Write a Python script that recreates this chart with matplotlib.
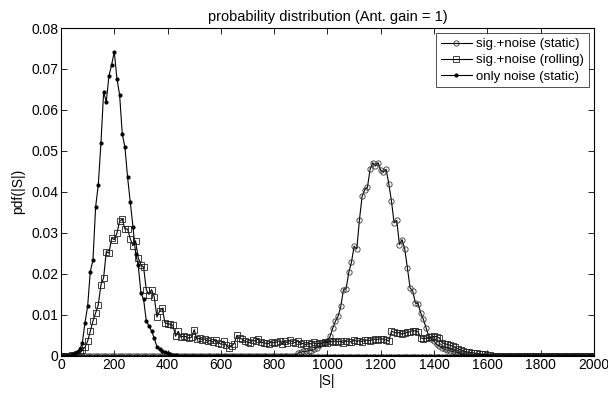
import numpy as np
import matplotlib
matplotlib.use("Agg")
import matplotlib.pyplot as plt
from matplotlib.ticker import FixedLocator

plt.rcParams['font.family'] = ['Liberation Sans', 'DejaVu Sans']

x_vals = list(range(0, 2001, 10))

# only noise (static)
noise_vals = [0.0, 0.0, 0.0, 0.0, 0.0002, 0.0004, 0.0008, 0.0015, 0.003, 0.008,
              0.012, 0.0205, 0.0233, 0.0363, 0.0417, 0.052, 0.0643, 0.062, 0.0683, 0.071,
              0.0742, 0.0676, 0.0637, 0.0541, 0.0509, 0.0435, 0.0376, 0.0315, 0.0249, 0.022,
              0.0153, 0.0137, 0.0085, 0.0072, 0.006, 0.0042, 0.0022, 0.0016, 0.0012, 0.0008,
              0.0005, 0.0003, 0.0002, 0.0001] + [0.0] * 157

# sig.+noise (rolling)
rolling_vals = [0.0, 0.0, 0.0, 0.0, 0.0001, 0.0002, 0.0003, 0.0005, 0.0013, 0.002,
                0.0035, 0.0059, 0.0084, 0.0104, 0.0124, 0.0173, 0.019, 0.0254, 0.025, 0.0287,
                0.0283, 0.0299, 0.0328, 0.0333, 0.0309, 0.0309, 0.0285, 0.0268, 0.028, 0.0238,
                0.0222, 0.0216, 0.0161, 0.0149, 0.0161, 0.0143, 0.0094, 0.0108, 0.0116, 0.008,
                0.0078, 0.0076, 0.0074, 0.0047, 0.0059, 0.0045, 0.0047, 0.0046, 0.0042, 0.0045,
                0.0063, 0.004, 0.0042, 0.0039, 0.004, 0.0035, 0.0037, 0.0033, 0.0038, 0.0031,
                0.0028, 0.0035, 0.0025, 0.0019, 0.0024, 0.0029, 0.0049, 0.0042, 0.004, 0.0035,
                0.0033, 0.0031, 0.0038, 0.0035, 0.0041, 0.0033, 0.0031, 0.003, 0.0029, 0.0034,
                0.0031, 0.0033, 0.0036, 0.0028, 0.0035, 0.0031, 0.0037, 0.0033, 0.0031, 0.0036,
                0.0028, 0.003, 0.0026, 0.003, 0.0028, 0.0032, 0.0027, 0.0031, 0.003, 0.0033,
                0.0031, 0.0035, 0.0033, 0.0036, 0.0033, 0.0035, 0.0031, 0.0036, 0.0034, 0.0033,
                0.0037, 0.0035, 0.0036, 0.0034, 0.0037, 0.0038, 0.0036, 0.0039, 0.004, 0.0039,
                0.0041, 0.004, 0.0038, 0.0035, 0.0059, 0.0057, 0.0055, 0.0056, 0.0052, 0.0055,
                0.0057, 0.0058, 0.0061, 0.006, 0.0058, 0.0043, 0.0041, 0.0042, 0.0044, 0.0045,
                0.0047, 0.0046, 0.0043, 0.0031, 0.0029, 0.0027, 0.0025, 0.0023, 0.002, 0.0016,
                0.0014, 0.0011, 0.0009, 0.0008, 0.0007, 0.0006, 0.0005, 0.0004, 0.0003, 0.0003,
                0.0002, 0.0001] + [0.0] * 39

# sig.+noise (static)
static_vals = [0.0] * 89 + [
    0.0006, 0.0008, 0.001, 0.001, 0.0012, 0.0012, 0.0015, 0.0019, 0.0025, 0.0031,
    0.0033, 0.0035, 0.0047, 0.0067, 0.0084, 0.0096, 0.012, 0.0161, 0.0163, 0.0203,
    0.0228, 0.0267, 0.026, 0.0332, 0.0389, 0.0405, 0.0411, 0.0455, 0.0471, 0.0463,
    0.0471, 0.0452, 0.0449, 0.0455, 0.042, 0.0378, 0.0324, 0.033, 0.0271, 0.0283,
    0.026, 0.0214, 0.0165, 0.0157, 0.0128, 0.0127, 0.0104, 0.0088, 0.0068, 0.0047,
    0.004, 0.0035, 0.0027, 0.0023, 0.0018, 0.0015, 0.0013, 0.0011, 0.001, 0.0008,
    0.0006, 0.0005, 0.0003, 0.0002, 0.0001] + [0.0] * 47

x_ticks = [0, 200, 400, 600, 800, 1000, 1200, 1400, 1600, 1800, 2000]
y_ticks = [0, 0.01, 0.02, 0.03, 0.04, 0.05, 0.06, 0.07, 0.08]
y_tick_labels = ['0', '0.01', '0.02', '0.03', '0.04', '0.05', '0.06', '0.07', '0.08']

fig = plt.figure(figsize=(6.08, 3.94), dpi=100)
ax = fig.add_axes([0.1003, 0.0977, 0.8766, 0.8312])

ax.plot(x_vals, static_vals, color='black', lw=0.8, marker='o', ms=3.8,
        mfc='none', mec='#333333', mew=0.6, label='sig.+noise (static)')
ax.plot(x_vals, rolling_vals, color='black', lw=0.8, marker='s', ms=3.8,
        mfc='none', mec='#222222', mew=0.6, label='sig.+noise (rolling)')
ax.plot(x_vals, noise_vals, color='black', lw=0.8, marker='.', ms=4,
        mfc='black', mec='black', label='only noise (static)')

ax.set_xlim(0, 2000)
ax.set_ylim(0, 0.08)
ax.xaxis.set_major_locator(FixedLocator(x_ticks))
ax.set_xticklabels([str(t) for t in x_ticks])
ax.yaxis.set_major_locator(FixedLocator(y_ticks))
ax.set_yticklabels(y_tick_labels)
ax.tick_params(direction='in', top=True, right=True, labelsize=10, length=4,
               width=0.6, pad=2, colors='black')
for s in ax.spines.values():
    s.set_linewidth(0.8)

ax.set_title('probability distribution (Ant. gain = 1)', fontsize=10.5, pad=5)
ax.set_xlabel('|S|', fontsize=10, labelpad=1)
ax.set_ylabel('pdf(|S|)', fontsize=10, labelpad=4)

leg = ax.legend(loc='upper right', fontsize=9.5, numpoints=1, handlelength=2.4,
                frameon=True, fancybox=False, edgecolor='black', borderpad=0.35,
                labelspacing=0.3, handletextpad=0.3, borderaxespad=0.4)
leg.get_frame().set_linewidth(0.6)

fig.savefig('out.png', dpi=100)
